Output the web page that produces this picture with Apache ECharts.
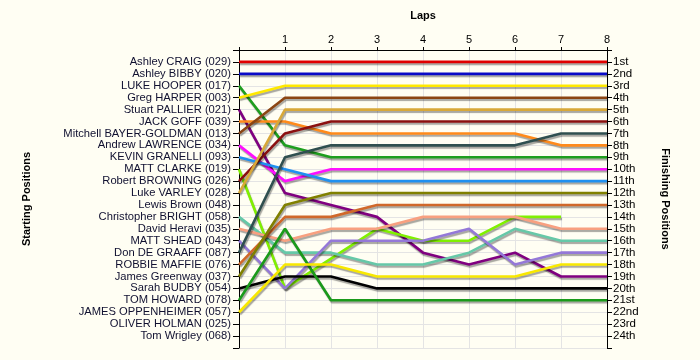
<!DOCTYPE html>
<html>
<head>
<meta charset="utf-8">
<script src="https://cdn.jsdelivr.net/npm/echarts@6/dist/echarts.min.js"></script>
<style>
html,body{margin:0;padding:0;background:#fffef3;}
#chart{width:700px;height:360px;}
</style>
</head>
<body>
<div id="chart"></div>
<script>
// ---- Data ----
const startNames = [
  'Ashley CRAIG (029)', 'Ashley BIBBY (020)', 'LUKE HOOPER (017)', 'Greg HARPER (003)',
  'Stuart PALLIER (021)', 'JACK GOFF (039)', 'Mitchell BAYER-GOLDMAN (013)', 'Andrew LAWRENCE (034)',
  'KEVIN GRANELLI (093)', 'MATT CLARKE (019)', 'Robert BROWNING (026)', 'Luke VARLEY (028)',
  'Lewis Brown (048)', 'Christopher BRIGHT (058)', 'David Heravi (035)', 'MATT SHEAD (043)',
  'Don DE GRAAFF (087)', 'ROBBIE MAFFIE (076)', 'James Greenway (037)', 'Sarah BUDBY (054)',
  'TOM HOWARD (078)', 'JAMES OPPENHEIMER (057)', 'OLIVER HOLMAN (025)', 'Tom Wrigley (068)'
];
const finishLabels = ['1st','2nd','3rd','4th','5th','6th','7th','8th','9th','10th','11th','12th',
  '13th','14th','15th','16th','17th','18th','19th','20th','21st','22nd','23rd','24th'];
const laps = [0, 1, 2, 3, 4, 5, 6, 7, 8];

// positions at laps 0..8 (null = no position recorded)
const craig       = [1, 1, 1, 1, 1, 1, 1, 1, 1];
const bibby       = [2, 2, 2, 2, 2, 2, 2, 2, 2];
const hooper      = [3, 8, 9, 9, 9, 9, 9, 9, 9];
const harper      = [4, 3, 3, 3, 3, 3, 3, 3, 3];
const pallier     = [5, 12, 13, 14, 17, 18, 17, 19, 19];
const goff        = [6, 6, 7, 7, 7, 7, 7, 8, 8];
const bayer       = [7, 4, 4, 4, 4, 4, 4, 4, 4];
const lawrence    = [8, 11, 10, 10, 10, 10, 10, 10, 10];
const granelli    = [9, 10, 11, 11, 11, 11, 11, 11, 11];
const clarke      = [10, 20, null, 15, 16, 16, 14, 14, null];
const browning    = [11, 7, 6, 6, 6, 6, 6, 6, 6];
const varley      = [12, 5, 5, 5, 5, 5, 5, 5, 5];
const bright      = [14, 17, 17, 18, 18, 17, 15, 16, 16];
const heravi      = [15, 16, 15, 15, 14, 14, 14, 15, 15];
const shead       = [16, 20, 16, 16, 16, 15, 18, 17, 17];
const degraaff    = [17, 9, 8, 8, 8, 8, 8, 7, 7];
const maffie      = [18, 14, 14, 13, 13, 13, 13, 13, 13];
const greenway    = [19, 13, 12, 12, 12, 12, 12, 12, 12];
const budby       = [20, 19, 19, 20, 20, 20, 20, 20, 20];
const howard      = [21, 15, 21, 21, 21, 21, 21, 21, 21];
const oppenheimer = [22, 18, 18, 19, 19, 19, 19, 18, 18];

const drivers = [
  ['Ashley CRAIG', craig, '#e00000'],
  ['Ashley BIBBY', bibby, '#0a0ac8'],
  ['LUKE HOOPER', hooper, '#1e9e1e'],
  ['Greg HARPER', harper, '#ffe800'],
  ['Stuart PALLIER', pallier, '#800080'],
  ['JACK GOFF', goff, '#ff8a1a'],
  ['Mitchell BAYER-GOLDMAN', bayer, '#8b4513'],
  ['Andrew LAWRENCE', lawrence, '#ff10ff'],
  ['KEVIN GRANELLI', granelli, '#2090f0'],
  ['MATT CLARKE', clarke, '#80f000'],
  ['Robert BROWNING', browning, '#8b1010'],
  ['Luke VARLEY', varley, '#d8a838'],
  ['Christopher BRIGHT', bright, '#66c8a8'],
  ['David Heravi', heravi, '#f8a080'],
  ['MATT SHEAD', shead, '#9478d8'],
  ['Don DE GRAAFF', degraaff, '#2f4f4f'],
  ['ROBBIE MAFFIE', maffie, '#d0682a'],
  ['James Greenway', greenway, '#808000'],
  ['Sarah BUDBY', budby, '#000000'],
  ['TOM HOWARD', howard, '#1a9a1a'],
  ['JAMES OPPENHEIMER', oppenheimer, '#f8e800']
];

const FONT = 'Liberation Sans';
const series = drivers.map(([name, pos, color]) => ({
  name: name,
  type: 'line',
  yAxisIndex: 0,
  symbol: 'none',
  connectNulls: true,
  animation: false,
  data: laps.map((l, i) => pos[i] == null ? null : [l, pos[i]]).filter(d => d !== null),
  lineStyle: {
    color: color, width: 2.6,
    shadowColor: 'rgba(0,0,0,0.35)', shadowOffsetX: 1, shadowOffsetY: 2, shadowBlur: 1
  }
}));

const chart = echarts.init(document.getElementById('chart'), null, {renderer: 'canvas'});
chart.setOption({
  backgroundColor: '#fffef3',
  animation: false,
  grid: {left: 239, right: 93, top: 50, bottom: 12},
  xAxis: {
    type: 'value', position: 'top', min: 0, max: 8, interval: 1,
    name: 'Laps', nameLocation: 'middle', nameGap: 29,
    nameTextStyle: {fontFamily: FONT, fontSize: 11, fontWeight: 'bold', color: '#000'},
    axisLine: {show: true, onZero: false, lineStyle: {color: '#000', width: 1}},
    axisTick: {show: true, length: 3, lineStyle: {color: '#000'}},
    axisLabel: {fontFamily: FONT, fontSize: 11, color: '#000', margin: 5,
      formatter: v => v === 0 ? '' : String(v)},
    splitLine: {show: true, lineStyle: {color: '#e4e4e4', width: 1}}
  },
  yAxis: [
    {
      type: 'value', position: 'left', min: 0, max: 25, interval: 1, inverse: true,
      name: 'Starting Positions', nameLocation: 'middle', nameGap: 207, nameRotate: 90,
      nameTextStyle: {fontFamily: FONT, fontSize: 11, fontWeight: 'bold', color: '#000'},
      axisLine: {show: true, onZero: false, lineStyle: {color: '#000', width: 1}},
      axisTick: {show: true, length: 6, lineStyle: {color: '#000'}},
      axisLabel: {fontFamily: FONT, fontSize: 11.2, color: '#101030', margin: 8,
        formatter: v => startNames[v - 1] || ''},
      splitLine: {show: true, lineStyle: {color: '#e4e4e4', width: 1}}
    },
    {
      type: 'value', position: 'right', min: 0, max: 25, interval: 1, inverse: true,
      name: 'Finishing Positions', nameLocation: 'middle', nameGap: 53, nameRotate: -90,
      nameTextStyle: {fontFamily: FONT, fontSize: 11, fontWeight: 'bold', color: '#000'},
      axisLine: {show: true, onZero: false, lineStyle: {color: '#000', width: 1}},
      axisTick: {show: true, length: 5, lineStyle: {color: '#000'}},
      axisLabel: {fontFamily: FONT, fontSize: 11.5, color: '#000', margin: 6,
        formatter: v => finishLabels[v - 1] || ''},
      splitLine: {show: false}
    }
  ],
  series: series
});
</script>
</body>
</html>
